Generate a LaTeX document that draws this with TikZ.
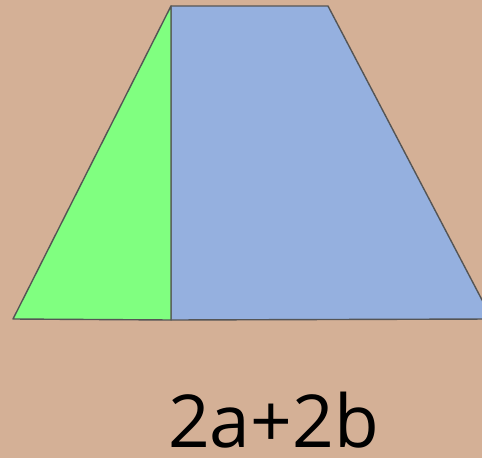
\documentclass[tikz,border=0pt]{standalone}
\usepackage{fontspec}
\setmainfont{Open Sans}
\usetikzlibrary{positioning}
\definecolor{bgtan}{RGB}{212,176,150}
\definecolor{leftgreen}{RGB}{128,255,128}
\definecolor{rightblue}{RGB}{149,176,223}
\definecolor{edgegray}{RGB}{85,85,85}
\tikzset{
  piece/.style={draw=edgegray, line width=1.4pt, line join=round},
  sumlabel/.style={font=\fontsize{73}{80}\selectfont, text=black, anchor=base, inner sep=0pt}
}
\begin{document}
\begin{tikzpicture}[x=1pt, y=-1pt]
  % Hintergrund
  \fill[bgtan] (0,0) rectangle (482,458);
  \useasboundingbox (0,0) rectangle (482,458);

  % Eckpunkte
  \coordinate (topL) at (171,6);
  \coordinate (topR) at (328,6);
  \coordinate (botL) at (13,319);
  \coordinate (botM) at (171,320);
  \coordinate (botR) at (492,319);

  % Flaechen
  \begin{scope}
    \clip (0,0) rectangle (482,458);
    \filldraw[piece, fill=rightblue] (topL) -- (topR) -- (botR) -- (botM) -- cycle;
  \end{scope}
  \filldraw[piece, fill=leftgreen] (botL) -- (topL) -- (botM) -- cycle;

  % Beschriftung
  \node (sum) [sumlabel] at (273.5,447) {2a+2b};
\end{tikzpicture}
\end{document}
